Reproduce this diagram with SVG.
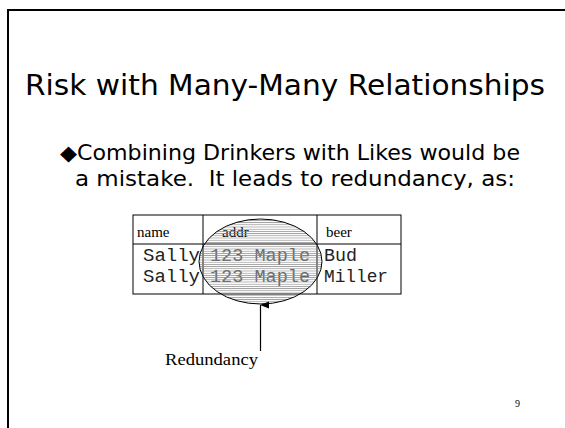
<svg xmlns="http://www.w3.org/2000/svg" width="565" height="428" viewBox="0 0 565 428">
<defs>
<pattern id="hatch" width="6" height="2.2" patternUnits="userSpaceOnUse">
<rect x="0" y="0" width="6" height="0.8" fill="#888"/>
</pattern>
<marker id="arr" markerWidth="8" markerHeight="10" refX="4" refY="0.5" orient="auto-start-reverse" markerUnits="userSpaceOnUse">
<path d="M0.5,9 L4,0 L7.5,9 Z" fill="#000"/>
</marker>
</defs>
<style>
.sans{font-family:"DejaVu Sans","Liberation Sans",sans-serif;fill:#000}
.serif{font-family:"Liberation Serif",serif;fill:#000}
.mono{font-family:"Liberation Mono",monospace;fill:#222}
.faded{fill:#666}
.tl{stroke:#000;stroke-width:1;fill:none}
</style>
<rect x="0" y="0" width="565" height="428" fill="#fff"/>
<rect x="8" y="10" width="600" height="500" fill="none" stroke="#000" stroke-width="2"/>
<g id="title">
<text class="sans" x="25" y="95" font-size="29" textLength="520" lengthAdjust="spacingAndGlyphs">Risk with Many-Many Relationships</text>
</g>
<g id="bullet">
<text class="sans" x="60" y="160" font-size="21" textLength="460" lengthAdjust="spacingAndGlyphs">◆Combining Drinkers with Likes would be</text>
<text class="sans" x="75" y="186" font-size="21" textLength="440" lengthAdjust="spacingAndGlyphs" xml:space="preserve">a mistake.  It leads to redundancy, as:</text>
</g>
<g id="table">
<rect class="tl" x="133" y="215" width="268" height="79"/>
<line class="tl" x1="133" y1="244" x2="401" y2="244"/>
<line class="tl" x1="203" y1="215" x2="203" y2="294"/>
<line class="tl" x1="317" y1="215" x2="317" y2="294"/>
<text class="serif" x="137" y="237" font-size="15">name</text>
<text class="serif" x="222" y="237" font-size="15">addr</text>
<text class="serif" x="326" y="237" font-size="15">beer</text>
<text class="mono" x="143" y="261" font-size="18" textLength="57" lengthAdjust="spacingAndGlyphs">Sally</text>
<text class="mono" x="143" y="282" font-size="18" textLength="57" lengthAdjust="spacingAndGlyphs">Sally</text>
<text class="mono faded" x="210" y="261" font-size="18" textLength="100" lengthAdjust="spacingAndGlyphs">123 Maple</text>
<text class="mono faded" x="210" y="282" font-size="18" textLength="100" lengthAdjust="spacingAndGlyphs">123 Maple</text>
<text class="mono" x="324" y="261" font-size="18" textLength="33" lengthAdjust="spacingAndGlyphs">Bud</text>
<text class="mono" x="324" y="282" font-size="18" textLength="64" lengthAdjust="spacingAndGlyphs">Miller</text>
</g>
<g id="ellipse">
<ellipse cx="260.5" cy="261.5" rx="61.5" ry="42.5" fill="url(#hatch)" fill-opacity="0.85" stroke="#000" stroke-width="1"/>
</g>
<g id="connectors">
<line x1="260.5" y1="351" x2="260.5" y2="305" stroke="#000" stroke-width="1.2" marker-end="url(#arr)"/>
</g>
<g id="label">
<text class="serif" x="165" y="365" font-size="17" textLength="93" lengthAdjust="spacingAndGlyphs">Redundancy</text>
</g>
<g id="page">
<text class="serif" x="515" y="407" font-size="10">9</text>
</g>
</svg>
